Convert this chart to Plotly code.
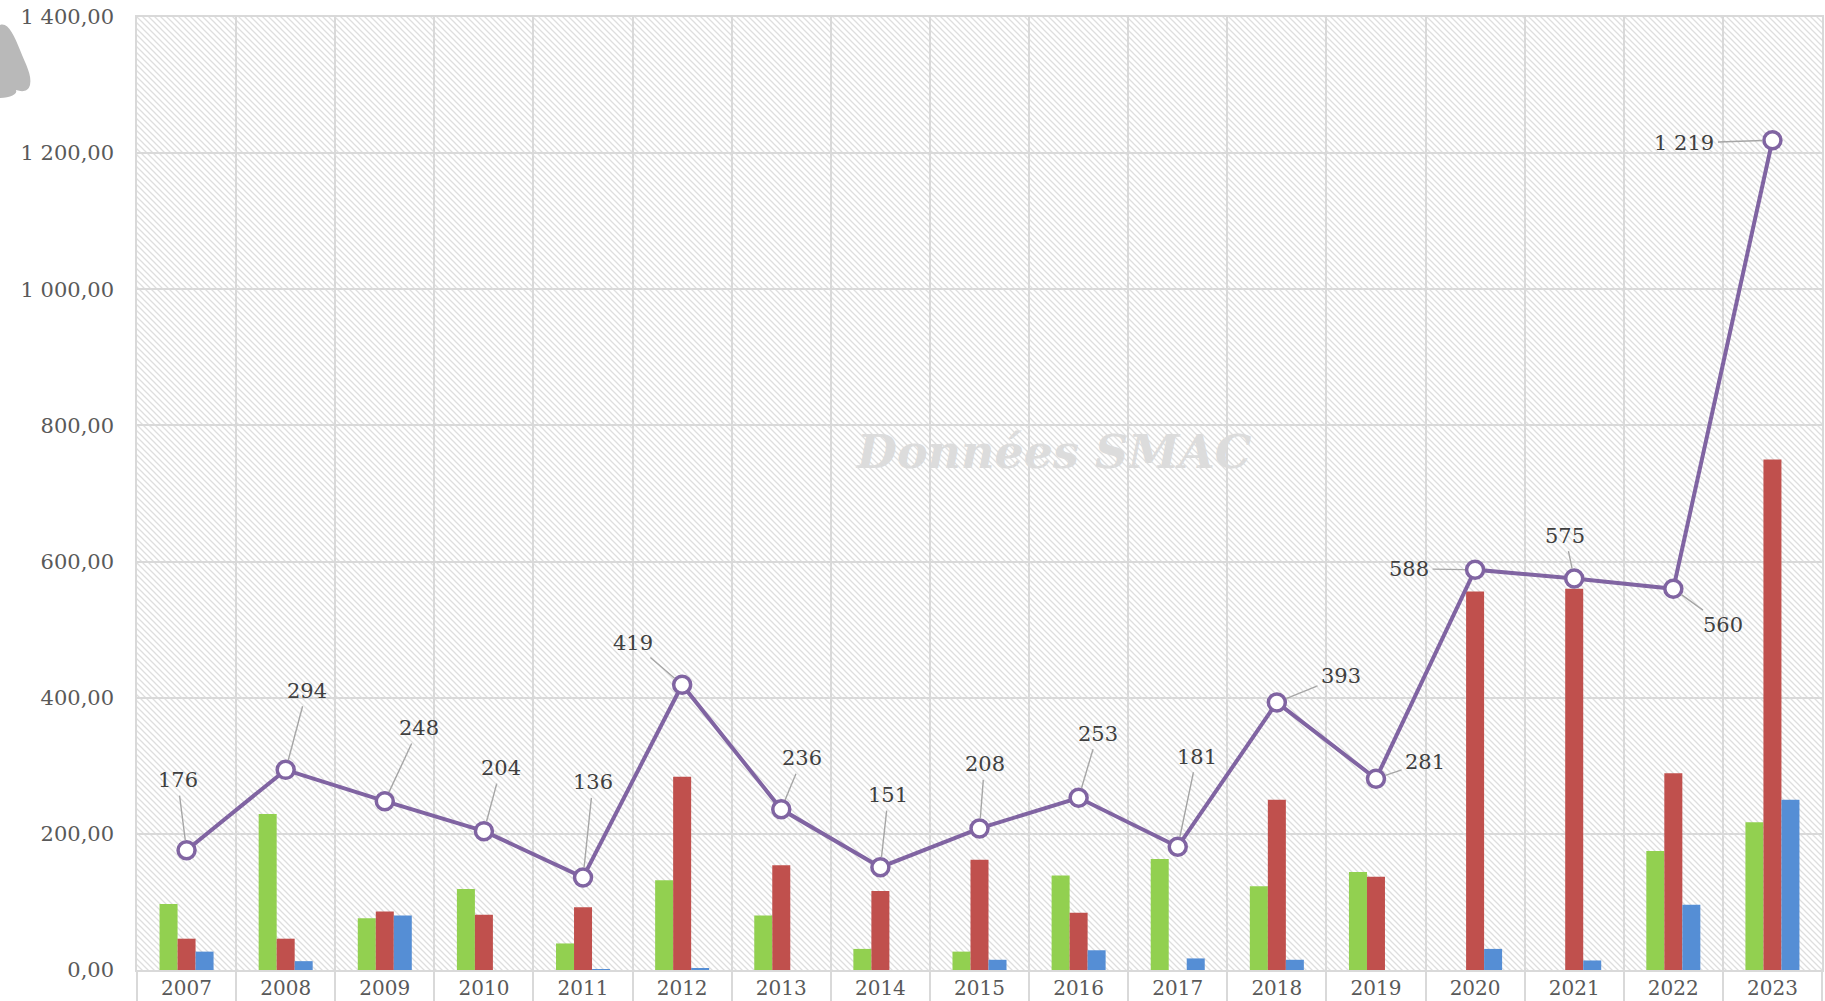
import base64
import plotly.graph_objects as go

# ---------------- data ----------------
years = [str(y) for y in range(2007, 2024)]
green_vals = [97, 229, 76, 119, 39, 132, 80, 31, 27, 139, 163, 123, 144, 0, 0, 175, 217]
red_vals = [46, 46, 86, 81, 92, 284, 154, 116, 162, 84, 0, 250, 137, 556, 560, 289, 750]
blue_vals = [27, 13, 80, 0, 1, 2, 0, 0, 15, 29, 17, 15, 0, 31, 14, 96, 250]
total_vals = [176, 294, 248, 204, 136, 419, 236, 151, 208, 253, 181, 393, 281, 588, 575, 560, 1219]

# label offsets (pixels) for the data labels of the line
label_dx = [-9, 21, 34, 17, 10, -49, 21, 8, 5, 19, 19, 64, 49, -66, -9, 50, -88]
label_dy = [-70, -79, -73, -63, -95, -42, -51, -72, -64, -64, -90, -26, -17, -1, -43, 36, 3]

FONT = "DejaVu Serif"
GRID = "#d9d9d9"

W, H = 1825, 1001
ML, MR, MT, MB = 137, 3, 17, 31
PW, PH = W - ML - MR, H - MT - MB

fig = go.Figure()
fig.add_trace(go.Bar(x=years, y=green_vals, marker=dict(color="#92d050", line=dict(width=0)), name="A"))
fig.add_trace(go.Bar(x=years, y=red_vals, marker=dict(color="#c0504d", line=dict(width=0)), name="B"))
fig.add_trace(go.Bar(x=years, y=blue_vals, marker=dict(color="#558ed5", line=dict(width=0)), name="C"))
fig.add_trace(go.Scatter(
    x=years, y=total_vals, mode="lines+markers", name="Total",
    line=dict(color="#8064a2", width=4),
    marker=dict(symbol="circle", size=17, color="white", line=dict(color="#8064a2", width=3.5)),
))

def fmt(v):
    return f"{v:,}".replace(",", " ")

annotations = []
for i, (v, dx, dy) in enumerate(zip(total_vals, label_dx, label_dy)):
    annotations.append(dict(
        x=i, y=v, xref="x", yref="y", text=fmt(v), showarrow=True,
        ax=dx, ay=dy, arrowhead=0, arrowwidth=1.4, arrowcolor="#a6a6a6",
        standoff=10, startstandoff=2,
        font=dict(family=FONT, size=21, color="#404040"),
    ))

# watermark
annotations.append(dict(
    x=(1053 - ML) / PW, y=(970 - 452) / PH, xref="paper", yref="paper",
    text="Données SMAC", showarrow=False,
    font=dict(family=FONT, size=46, color="#dcdcdc", style="italic", weight="bold"),
))

# hatch background
hatch_svg = f'''<svg xmlns="http://www.w3.org/2000/svg" width="{PW}" height="{PH}" viewBox="0 0 {PW} {PH}">
<defs><pattern id="h" patternUnits="userSpaceOnUse" width="6" height="6">
<path d="M-1,-1 L7,7 M-1,5 L1,7 M5,-1 L7,1" stroke="#dedede" stroke-width="1.3"/>
</pattern></defs>
<rect width="{PW}" height="{PH}" fill="white"/>
<rect width="{PW}" height="{PH}" fill="url(#h)"/>
</svg>'''
hatch_uri = "data:image/svg+xml;base64," + base64.b64encode(hatch_svg.encode()).decode()

blob_svg = '''<svg xmlns="http://www.w3.org/2000/svg" width="35" height="80" viewBox="0 0 35 80">
<path d="M0,5 C8,2 14,15 20,30 C26,45 32,55 30,65 C28,72 22,72 16,70 C18,74 10,78 0,78 Z" fill="#b9b9b9"/>
</svg>'''
blob_uri = "data:image/svg+xml;base64," + base64.b64encode(blob_svg.encode()).decode()

images = [
    dict(source=hatch_uri, xref="paper", yref="paper", x=0, y=1, sizex=1, sizey=1,
         sizing="stretch", xanchor="left", yanchor="top", layer="below"),
    dict(source=blob_uri, xref="paper", yref="paper", x=(0 - ML) / PW, y=(970 - 20) / PH,
         sizex=35 / PW, sizey=80 / PH, sizing="stretch", xanchor="left", yanchor="top", layer="above"),
]

fig.update_layout(
    width=W, height=H,
    margin=dict(l=ML, r=MR, t=MT, b=MB, pad=0, autoexpand=False),
    paper_bgcolor="white", plot_bgcolor="white",
    barmode="group", bargap=0.455, bargroupgap=0,
    showlegend=False,
    separators=", ",
    annotations=annotations,
    images=images,
    font=dict(family=FONT, color="#595959"),
)
fig.update_xaxes(
    type="category", range=[-0.5, len(years) - 0.5], tickson="boundaries",
    showgrid=True, gridcolor=GRID, gridwidth=1.5,
    ticks="outside", ticklen=30, tickwidth=1.5, tickcolor=GRID, ticklabelstandoff=-1,
    tickangle=0, automargin=False,
    showline=True, linecolor=GRID, linewidth=2, mirror=True,
    tickfont=dict(family=FONT, size=20, color="#595959"),
)
fig.update_yaxes(
    range=[0, 1400], dtick=200, tickformat=",.2f", showgrid=True, gridcolor=GRID, gridwidth=1.5,
    showline=True, linecolor=GRID, linewidth=1.5, mirror=True, zeroline=False,
    ticks="", ticklabelstandoff=17, automargin=False,
    tickfont=dict(family=FONT, size=21, color="#595959"),
)

fig.write_html(
    "out.html",
    config={"displayModeBar": False},
    post_script="document.body.style.margin='0';document.body.style.overflow='hidden';",
)
